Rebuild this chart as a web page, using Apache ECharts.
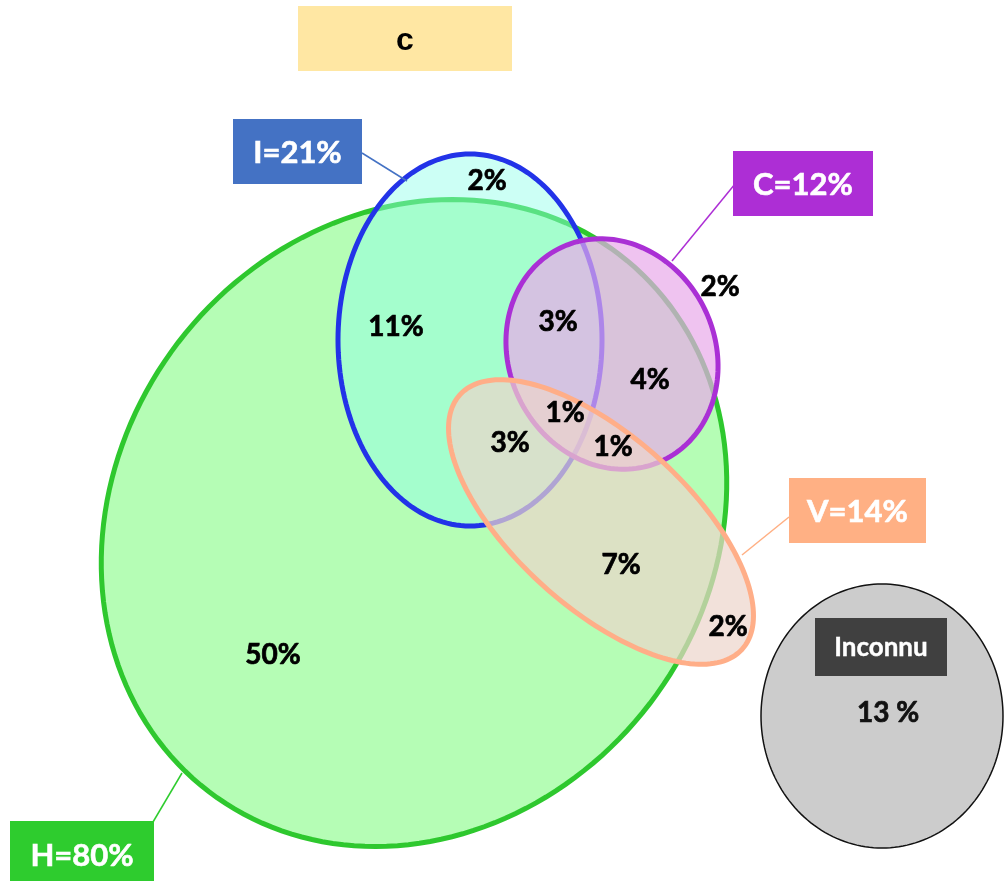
<!DOCTYPE html>
<html>
<head>
<meta charset="utf-8">
<title>c</title>
<script src="https://cdn.jsdelivr.net/npm/echarts@6/dist/echarts.min.js"></script>
<style>
  html, body { margin: 0; padding: 0; background: #ffffff; }
  #chart { width: 1004px; height: 881px; }
</style>
</head>
<body>
<div id="chart"></div>
<script>
// ---- data ----
const titleText = 'c';
const setNames = ['H', 'I', 'C', 'V'];
const setShares = [80, 21, 12, 14];
// share of each region of the diagram, in %
const regionNames = ['H', 'I', 'I∩H', 'I∩C∩H', 'C', 'C∩H', 'I∩C∩V∩H', 'I∩V∩H', 'C∩V∩H', 'V∩H', 'V'];
const regionValues = [50, 2, 11, 3, 2, 4, 1, 3, 1, 7, 2];
const unknownName = 'Inconnu';
const unknownShare = 13;

// ---- layout (plot units = pixels) ----
const setShapes = {
  H: { cx: 414, cy: 523, rx: 297, ry: 338, rot: 37.4, fill: 'rgba(181,253,181,1)', stroke: '#2ec82e' },
  I: { cx: 470, cy: 340, rx: 132, ry: 186, rot: 0, fill: 'rgba(144,255,233,0.46)', stroke: '#2233e8' },
  C: { cx: 612, cy: 354, rx: 103, ry: 118, rot: -26, fill: 'rgba(232,169,234,0.7)', stroke: '#aa30d5' },
  V: { cx: 601, cy: 522, rx: 190, ry: 86, rot: 42, fill: 'rgba(236,212,202,0.7)', stroke: '#ffae88' }
};
const setCallouts = {
  H: { box: [10, 821, 144, 66], line: [[153, 822], [182, 773]], color: '#2ecc2e' },
  I: { box: [233, 119, 129, 65], line: [[362, 153], [407, 181]], color: '#4472c4' },
  C: { box: [733, 151, 140, 65], line: [[735, 184], [672, 261]], color: '#ad2ed5' },
  V: { box: [789, 478, 137, 65], line: [[789, 517], [742, 555]], color: '#ffb084' }
};
const regionPos = [
  [273, 655], [487, 181], [396, 327], [558, 322], [720, 287], [650, 380],
  [565, 413], [510, 443], [613, 447], [621, 565], [728, 627]
];
const unknownShape = { cx: 882, cy: 716, rx: 121, ry: 132, rot: 0 };
const unknownBox = [815, 618, 132, 58];
const unknownValuePos = [888, 713];

const FONT = 'Lato, "Open Sans", sans-serif';

function ellipsePoints(api, e) {
  const pts = [];
  const r = e.rot * Math.PI / 180;
  const n = 180;
  for (let i = 0; i < n; i++) {
    const t = (i / n) * Math.PI * 2;
    const x = e.rx * Math.cos(t);
    const y = e.ry * Math.sin(t);
    pts.push(api.coord([
      e.cx + x * Math.cos(r) - y * Math.sin(r),
      e.cy + x * Math.sin(r) + y * Math.cos(r)
    ]));
  }
  return pts;
}

function rectFromBox(api, b) {
  const p0 = api.coord([b[0], b[1]]);
  const p1 = api.coord([b[0] + b[2], b[1] + b[3]]);
  return { x: p0[0], y: p0[1], width: p1[0] - p0[0], height: p1[1] - p0[1] };
}

const chart = echarts.init(document.getElementById('chart'), null, { renderer: 'canvas' });

const option = {
  animation: false,
  backgroundColor: '#ffffff',
  grid: { left: 0, right: 0, top: 0, bottom: 0 },
  xAxis: { type: 'value', min: 0, max: 1004, show: false },
  yAxis: { type: 'value', min: 0, max: 881, inverse: true, show: false },
  graphic: [
    {
      type: 'group',
      left: 298, top: 6,
      children: [
        { type: 'rect', shape: { x: 0, y: 0, width: 214, height: 65 }, style: { fill: '#ffe7a3' } },
        {
          type: 'text', x: 107, y: 35,
          style: { text: titleText, font: 'bold 32px "Liberation Sans", Arial, sans-serif', fill: '#000', align: 'center', verticalAlign: 'middle' }
        }
      ]
    }
  ],
  series: [
    {
      // the four overlapping sets, drawn H, I, C, V
      type: 'custom',
      name: 'sets',
      coordinateSystem: 'cartesian2d',
      silent: true,
      data: setNames.map((n, i) => [setShapes[n].cx, setShapes[n].cy, i]),
      encode: { x: 0, y: 1 },
      renderItem: function (params, api) {
        const e = setShapes[setNames[params.dataIndex]];
        return {
          type: 'polygon',
          shape: { points: ellipsePoints(api, e) },
          style: { fill: e.fill, stroke: e.stroke, lineWidth: 5 }
        };
      },
      z: 2
    },
    {
      // people with no known category
      type: 'custom',
      name: unknownName,
      coordinateSystem: 'cartesian2d',
      silent: true,
      data: [[unknownShape.cx, unknownShape.cy, unknownShare]],
      encode: { x: 0, y: 1 },
      renderItem: function (params, api) {
        const vp = api.coord(unknownValuePos);
        const r = rectFromBox(api, unknownBox);
        return {
          type: 'group',
          children: [
            { type: 'polygon', shape: { points: ellipsePoints(api, unknownShape) }, style: { fill: '#cccccc', stroke: '#111111', lineWidth: 1.5 } },
            { type: 'rect', shape: r, style: { fill: '#404040' } },
            { type: 'text', x: r.x + r.width / 2, y: r.y + r.height / 2 + 1, style: { text: unknownName, font: 'bold 26px ' + FONT, fill: '#ffffff', stroke: '#ffffff', lineWidth: 0.4, align: 'center', verticalAlign: 'middle' } },
            { type: 'text', x: vp[0], y: vp[1], style: { text: api.value(2) + ' %', font: 'bold 28px ' + FONT, fill: '#111111', stroke: '#111111', lineWidth: 0.7, align: 'center', verticalAlign: 'middle' } }
          ]
        };
      },
      z: 2
    },
    {
      // region shares
      type: 'custom',
      name: 'regions',
      coordinateSystem: 'cartesian2d',
      silent: true,
      data: regionValues.map((v, i) => [regionPos[i][0], regionPos[i][1], v]),
      encode: { x: 0, y: 1 },
      renderItem: function (params, api) {
        const p = api.coord([api.value(0), api.value(1)]);
        return {
          type: 'text', x: p[0], y: p[1],
          style: { text: api.value(2) + '%', font: 'bold 28px ' + FONT, fill: '#000000', stroke: '#000000', lineWidth: 0.7, align: 'center', verticalAlign: 'middle' }
        };
      },
      z: 4
    },
    {
      // set callouts with leader lines
      type: 'custom',
      name: 'callouts',
      coordinateSystem: 'cartesian2d',
      silent: true,
      data: setNames.map((n, i) => [setCallouts[n].box[0], setCallouts[n].box[1], setShares[i]]),
      encode: { x: 0, y: 1 },
      renderItem: function (params, api) {
        const n = setNames[params.dataIndex];
        const c = setCallouts[n];
        const r = rectFromBox(api, c.box);
        const a = api.coord(c.line[0]);
        const b = api.coord(c.line[1]);
        const ty = n === 'H' ? r.y + 35 : r.y + r.height / 2 + 1;
        return {
          type: 'group',
          children: [
            { type: 'line', shape: { x1: a[0], y1: a[1], x2: b[0], y2: b[1] }, style: { stroke: c.color, lineWidth: 1.5 } },
            { type: 'rect', shape: r, style: { fill: c.color } },
            { type: 'text', x: r.x + r.width / 2, y: ty, style: { text: n + '=' + api.value(2) + '%', font: 'bold 31px ' + FONT, fill: '#ffffff', stroke: '#ffffff', lineWidth: 0.6, align: 'center', verticalAlign: 'middle' } }
          ]
        };
      },
      z: 5
    }
  ]
};

chart.setOption(option);
</script>
</body>
</html>
